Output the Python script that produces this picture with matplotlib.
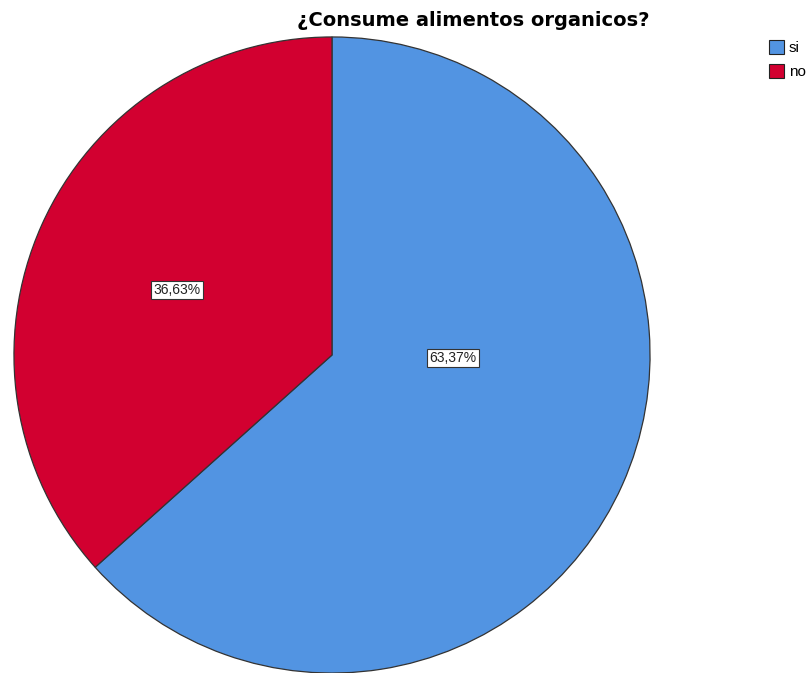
import matplotlib.pyplot as plt
from matplotlib.patches import Patch

categories = ["si", "no"]
percents = [63.37, 36.63]
colors = ["#5294E2", "#D20030"]
pct_labels = ["63,37%", "36,63%"]
# label anchor points inside each slice (data units, radius = 1)
label_pos = [(0.38, -0.01), (-0.487, 0.205)]

W, H = 811, 673
fig = plt.figure(figsize=(W / 100, H / 100), dpi=100)

cx, cy, r = 332, 355, 319
ax = fig.add_axes([(cx - r) / W, (H - cy - r) / H, 2 * r / W, 2 * r / H])
ax.pie(percents, colors=colors, startangle=90, counterclock=False, radius=1,
       wedgeprops=dict(edgecolor="#333333", linewidth=0.9))
ax.set_xlim(-1.003, 1.003)
ax.set_ylim(-1.003, 1.003)
ax.set_aspect("equal")
ax.axis("off")

for txt, (x, y) in zip(pct_labels, label_pos):
    ax.text(x, y, txt, ha="center", va="center", fontsize=10,
            family="Liberation Sans", color="#222222",
            bbox=dict(boxstyle="square,pad=0.15", facecolor="white",
                      edgecolor="#333333", linewidth=0.8))

fig.text(473 / W, 1 - 20 / H, "¿Consume alimentos organicos?", ha="center",
         va="center", fontsize=14, fontweight="bold", family="DejaVu Sans")

handles = [Patch(facecolor=c, edgecolor="#222222", linewidth=0.8) for c in colors]
fig.legend(handles, categories, loc="upper left",
           bbox_to_anchor=(769 / W, 1 - 40 / H), frameon=False,
           handlelength=1.0, handleheight=1.0, handletextpad=0.3,
           labelspacing=0.6, borderpad=0, borderaxespad=0,
           prop=dict(family="Liberation Sans", size=11))

fig.savefig("out.png", dpi=100)
